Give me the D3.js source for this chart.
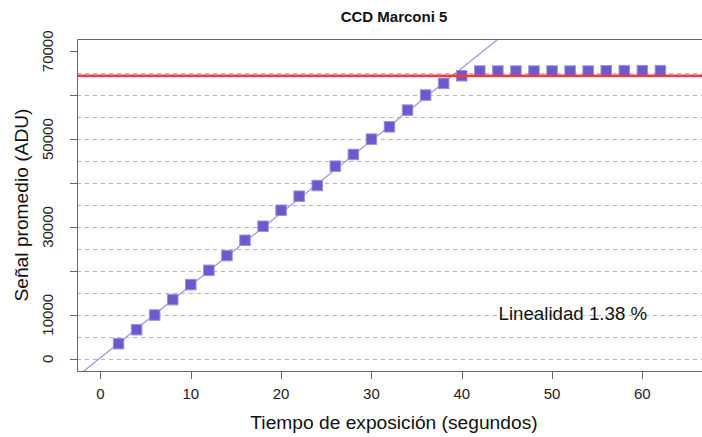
<!DOCTYPE html>
<html>
<head>
<meta charset="utf-8">
<script src="https://cdn.jsdelivr.net/npm/d3@7"></script>
<style>
  html, body { margin: 0; padding: 0; background: #fff; }
  svg { display: block; font-family: "Liberation Sans", Arial, Helvetica, sans-serif; }
</style>
</head>
<body>
<svg id="chart" width="702" height="437"></svg>
<script>
// ---- data ----
const exposureTimes = [2, 4, 6, 8, 10, 12, 14, 16, 18, 20, 22, 24, 26, 28, 30, 32, 34, 36, 38, 40,
                       42, 44, 46, 48, 50, 52, 54, 56, 58, 60, 62];
const meanSignal = [3420, 6610, 9940, 13450, 16870, 20130, 23480, 26970, 30160, 33810, 37000, 39440,
                    43840, 46510, 50000, 52800, 56610, 60030, 62700, 64430,
                    65500, 65500, 65500, 65500, 65500, 65500, 65500, 65550, 65600, 65600, 65600];
const fitSlope = 1648;        // ADU per second
const fitIntercept = 230;     // ADU
const saturationLevel = 64430;
const gridLevels = [0, 5000, 10000, 15000, 20000, 25000, 30000, 35000, 40000, 45000, 50000, 55000, 60000, 65000];
const xTicks = [0, 10, 20, 30, 40, 50, 60];
const yTicks = [0, 10000, 20000, 30000, 40000, 50000, 60000, 70000];
const yTickLabels = ["0", "10000", "", "30000", "", "50000", "", "70000"];
const titleText = "CCD Marconi 5";
const xLabel = "Tiempo de exposición (segundos)";
const yLabel = "Señal promedio (ADU)";
const noteText = "Linealidad 1.38 %";

// ---- layout ----
const svg = d3.select("#chart");
const L = 77, R = 711, T = 39, B = 371;
const x = d3.scaleLinear().domain([-2.6, 67.6]).range([L, R]);
const y = d3.scaleLinear().domain([-2800, 72800]).range([B, T]);

svg.append("defs").append("clipPath").attr("id", "clip")
  .append("rect").attr("x", L).attr("y", T).attr("width", R - L).attr("height", B - T);

const plot = svg.append("g").attr("clip-path", "url(#clip)");

// grid
plot.selectAll("line.grid").data(gridLevels).enter().append("line")
  .attr("class", "grid")
  .attr("x1", L).attr("x2", R)
  .attr("y1", d => Math.round(y(d)) + 0.5).attr("y2", d => Math.round(y(d)) + 0.5)
  .attr("stroke", "#b4b4b4").attr("stroke-width", 1).attr("stroke-dasharray", "4,4");

// fitted line
const xd = x.domain();
plot.append("line")
  .attr("x1", x(xd[0])).attr("y1", y(fitIntercept + fitSlope * xd[0]))
  .attr("x2", x(xd[1])).attr("y2", y(fitIntercept + fitSlope * xd[1]))
  .attr("stroke", "#9b91e2").attr("stroke-width", 1.2);

// points
const pts = exposureTimes.map((t, i) => ({ t, v: meanSignal[i] }));
const s = 10.5;
plot.selectAll("rect.pt").data(pts).enter().append("rect")
  .attr("class", "pt")
  .attr("x", d => x(d.t) - s / 2).attr("y", d => y(d.v) - s / 2)
  .attr("width", s).attr("height", s)
  .attr("fill", "#6a5acd").attr("stroke", "#9990df").attr("stroke-width", 1);

// saturation line
plot.append("line")
  .attr("x1", L).attr("x2", R)
  .attr("y1", y(saturationLevel)).attr("y2", y(saturationLevel))
  .attr("stroke", "#f23a3a").attr("stroke-width", 2.6);

// box
const axisColor = "#666";
svg.append("path")
  .attr("d", `M${R},${T + 0.5}H${L + 0.5}V${B + 0.5}H${R}`)
  .attr("fill", "none").attr("stroke", axisColor).attr("stroke-width", 1);

// x axis ticks and labels
const gx = svg.append("g");
gx.selectAll("line").data(xTicks).enter().append("line")
  .attr("x1", d => Math.round(x(d)) + 0.5).attr("x2", d => Math.round(x(d)) + 0.5)
  .attr("y1", B).attr("y2", B + 8)
  .attr("stroke", axisColor);
gx.selectAll("text").data(xTicks).enter().append("text")
  .attr("x", d => x(d)).attr("y", 399)
  .attr("text-anchor", "middle").attr("font-size", 15).attr("fill", "#222")
  .text(d => d);

// y axis ticks and labels
const gy = svg.append("g");
gy.selectAll("line").data(yTicks).enter().append("line")
  .attr("y1", d => Math.round(y(d)) + 0.5).attr("y2", d => Math.round(y(d)) + 0.5)
  .attr("x1", L - 7).attr("x2", L)
  .attr("stroke", axisColor);
gy.selectAll("text").data(yTicks).enter().append("text")
  .attr("transform", d => `translate(53,${y(d)}) rotate(-90)`)
  .attr("text-anchor", "middle").attr("font-size", 15).attr("fill", "#222")
  .text((d, i) => yTickLabels[i]);

// titles
svg.append("text").attr("x", (L + R) / 2).attr("y", 22)
  .attr("text-anchor", "middle").attr("font-size", 15).attr("font-weight", "bold").attr("fill", "#111")
  .text(titleText);
svg.append("text").attr("x", (L + R) / 2).attr("y", 429)
  .attr("text-anchor", "middle").attr("font-size", 19.2).attr("fill", "#111")
  .text(xLabel);
svg.append("text").attr("transform", `translate(28,${(T + B) / 2}) rotate(-90)`)
  .attr("text-anchor", "middle").attr("font-size", 19.2).attr("fill", "#111")
  .text(yLabel);

// annotation
svg.append("text").attr("x", x(52.3)).attr("y", 320)
  .attr("text-anchor", "middle").attr("font-size", 18.7).attr("fill", "#111")
  .text(noteText);
</script>
</body>
</html>
